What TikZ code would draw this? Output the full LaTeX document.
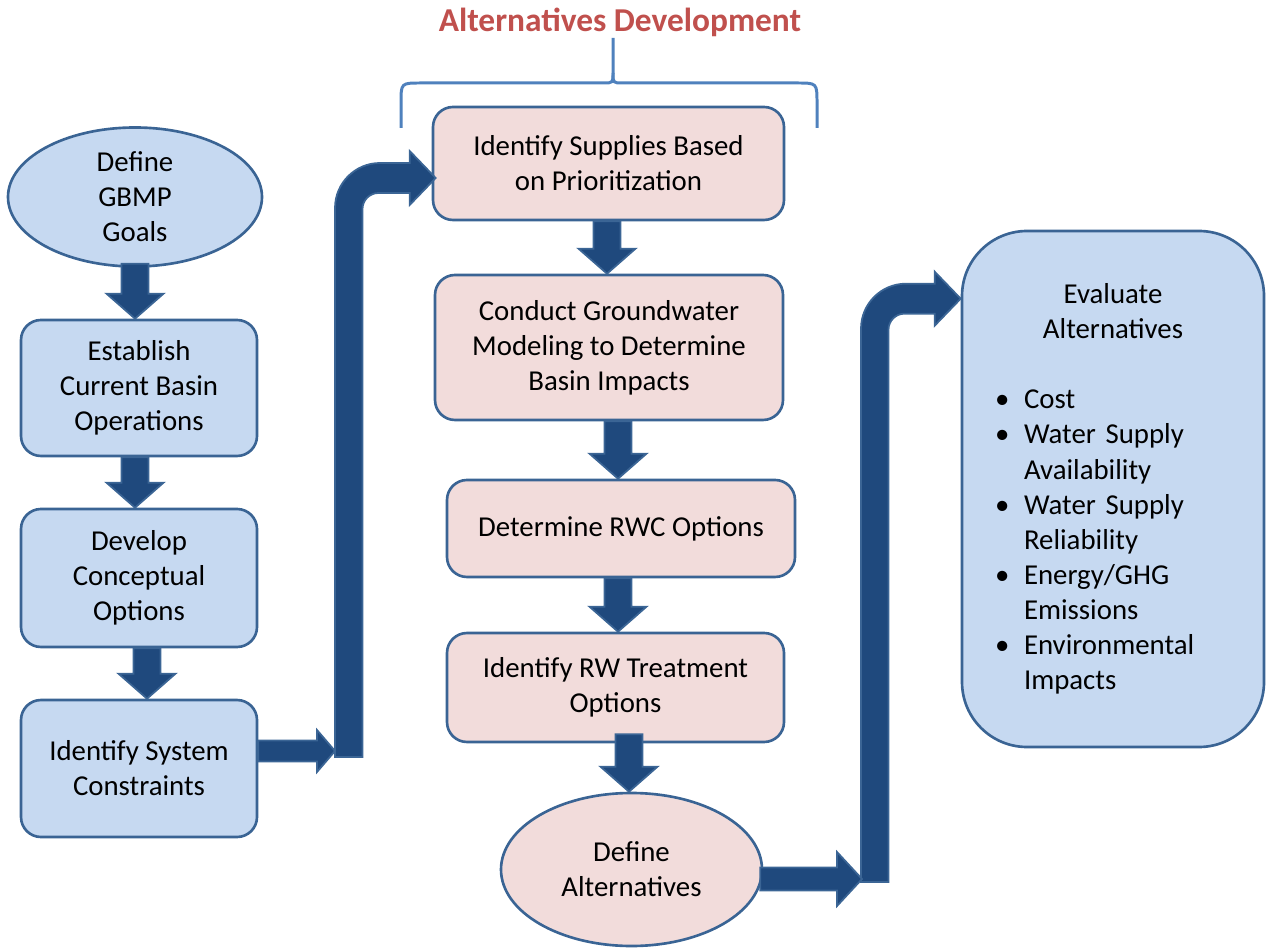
\documentclass[tikz,border=0pt]{standalone}
\usepackage{fontspec}
\setmainfont{Carlito}
\usepackage{xcolor}
\usetikzlibrary{calc}
\usetikzlibrary{positioning}
\usetikzlibrary{shapes.geometric}

\definecolor{boxblue}{HTML}{C6D9F1}
\definecolor{boxpink}{HTML}{F2DCDB}
\definecolor{boxline}{HTML}{3A6494}
\definecolor{arrowfill}{HTML}{1F497D}
\definecolor{arrowline}{HTML}{3B6595}
\definecolor{titlered}{HTML}{C0504D}
\definecolor{bracecol}{HTML}{4F81BD}

\tikzset{
	stepnode/.style={draw=boxline, line width=1.5pt, align=center, inner sep=2pt,
		font=\fontsize{16.4}{20}\selectfont},
	bluebox/.style={stepnode, fill=boxblue, rounded corners=0.4cm},
	pinkbox/.style={stepnode, fill=boxpink, rounded corners=0.4cm},
	blueoval/.style={stepnode, ellipse, fill=boxblue, inner sep=0pt},
	pinkoval/.style={stepnode, ellipse, fill=boxpink, inner sep=0pt},
	blockarrow/.style={fill=arrowfill, draw=arrowline, line width=1pt},
	bracket/.style={draw=bracecol, line width=1.7pt},
	headline/.style={text=titlered, font=\bfseries\fontsize{19}{23}\selectfont},
}

% straight block arrow downwards, from #1 to the top of #2
\newcommand{\blockdown}[2]{%
	\filldraw[blockarrow] let \p1=(#1), \p2=(#2) in
		(\x1-0.27cm,\y1) -- (\x1-0.27cm,\y2+0.5cm) -- (\x1-0.57cm,\y2+0.5cm)
		-- (\x1,\y2) -- (\x1+0.57cm,\y2+0.5cm) -- (\x1+0.27cm,\y2+0.5cm)
		-- (\x1+0.27cm,\y1) -- cycle;}
% block arrow to the right: start, tip, half shaft, half head, head length
\newcommand{\blockright}[5]{%
	\filldraw[blockarrow] let \p1=(#1), \p2=(#2) in
		(\x1,\y1+#3) -- (\x2-#5,\y1+#3) -- (\x2-#5,\y1+#4) -- (\x2,\y1)
		-- (\x2-#5,\y1-#4) -- (\x2-#5,\y1-#3) -- (\x1,\y1-#3) -- cycle;}
% bent block arrow: foot of the bar, tip
\newcommand{\blockbend}[2]{%
	\filldraw[blockarrow] let \p1=(#1), \p2=(#2) in
		(\x1,\y1) -- (\x1,\y2-0.6cm) arc[start angle=180, end angle=90, radius=0.9cm]
		-- (\x2-0.52cm,\y2+0.3cm) -- (\x2-0.52cm,\y2+0.54cm) -- (\x2,\y2)
		-- (\x2-0.52cm,\y2-0.54cm) -- (\x2-0.52cm,\y2-0.3cm)
		-- (\x1+0.87cm,\y2-0.3cm) arc[start angle=90, end angle=180, radius=0.32cm]
		-- (\x1+0.55cm,\y1) -- cycle;}
\newcommand{\bulletline}[1]{\hspace*{0.09cm}\makebox[0.58cm][l]{\textbullet}#1}
\newcommand{\wrapline}[1]{\hspace*{0.67cm}#1}

\begin{document}
\begin{tikzpicture}
	\useasboundingbox (0,0) rectangle (25.32,18.96);
	% left column
	\node[blueoval, minimum width=5.08cm, minimum height=2.78cm] (def) at (2.70,15.02) {Define\\GBMP\\Goals};
	\node[bluebox, minimum width=4.72cm, minimum height=2.72cm] (est) at (2.78,11.20) {Establish\\Current Basin\\Operations};
	\node[bluebox, minimum width=4.72cm, minimum height=2.76cm] (dev) at (2.78,7.40) {Develop\\Conceptual\\Options};
	\node[bluebox, minimum width=4.72cm, minimum height=2.74cm] (idc) at (2.78,3.59) {Identify System\\Constraints};
	% middle column
	\node[headline] (ttl) at (12.40,18.52) {Alternatives Development};
	\draw[bracket] (8.02,16.40) -- (8.02,16.90) .. controls (8.02,17.30) .. (8.42,17.30)
		-- (12.06,17.30) .. controls (12.26,17.30) .. (12.26,17.50) -- (12.26,18.20);
	\draw[bracket] (16.34,16.40) -- (16.34,16.90) .. controls (16.34,17.30) .. (15.94,17.30)
		-- (12.46,17.30) .. controls (12.26,17.30) .. (12.26,17.50);
	\node[pinkbox, minimum width=7.02cm, minimum height=2.26cm] (sup) at (12.17,15.69) {Identify Supplies Based\\on Prioritization};
	\node[pinkbox, minimum width=6.96cm, minimum height=2.90cm] (gw) at (12.18,12.01) {Conduct Groundwater\\Modeling to Determine\\Basin Impacts};
	\node[pinkbox, minimum width=6.96cm, minimum height=1.94cm] (rwc) at (12.42,8.39) {Determine RWC Options};
	\node[pinkbox, minimum width=6.74cm, minimum height=2.18cm] (rwt) at (12.31,5.21) {Identify RW Treatment\\Options};
	\node[pinkoval, minimum width=5.22cm, minimum height=3.06cm] (alt) at (12.63,1.57) {Define\\Alternatives};
	% right box
	\node[bluebox, rounded corners=1.3cm, minimum width=6.04cm, minimum height=10.32cm, text width=4.9cm] (eva) at (22.26,9.18) {%
		Evaluate\\Alternatives\par
		\vspace{\baselineskip}
		\raggedright\parfillskip=0pt plus 1fil
		\bulletline{Cost}\\
		\bulletline{Water Supply}\\
		\wrapline{Availability}\\
		\bulletline{Water Supply}\\
		\wrapline{Reliability}\\
		\bulletline{Energy/GHG}\\
		\wrapline{Emissions}\\
		\bulletline{Environmental}\\
		\wrapline{Impacts}\par};
	% arrows
	\blockdown{$(def.south)+(0,0.08)$}{est.north}
	\blockdown{$(est.south)+(-0.08,0)$}{dev.north}
	\blockdown{$(dev.south)+(0.16,0)$}{idc.north}
	\blockdown{$(sup.south)+(-0.03,0)$}{gw.north}
	\blockdown{$(gw.south)+(0.18,0)$}{rwc.north}
	\blockdown{$(rwc.south)+(-0.06,0)$}{rwt.north}
	\blockdown{$(rwt.south)+(0.27,0.18)$}{alt.north}
	\coordinate (ljoin) at (6.70,3.94);
	\coordinate (rjoin) at (17.24,1.38);
	\blockbend{$(ljoin)+(0,-0.12)$}{$(sup.west)+(0.08,-0.29)$}
	\blockbend{$(rjoin)+(-0.02,-0.06)$}{$(eva.north west)+(0,-1.38)$}
	\blockright{$(idc.east)+(0,0.35)$}{ljoin}{0.21cm}{0.42cm}{0.36cm}
	\blockright{$(alt.east)+(-0.06,-0.19)$}{rjoin}{0.23cm}{0.54cm}{0.5cm}
\end{tikzpicture}
\end{document}
